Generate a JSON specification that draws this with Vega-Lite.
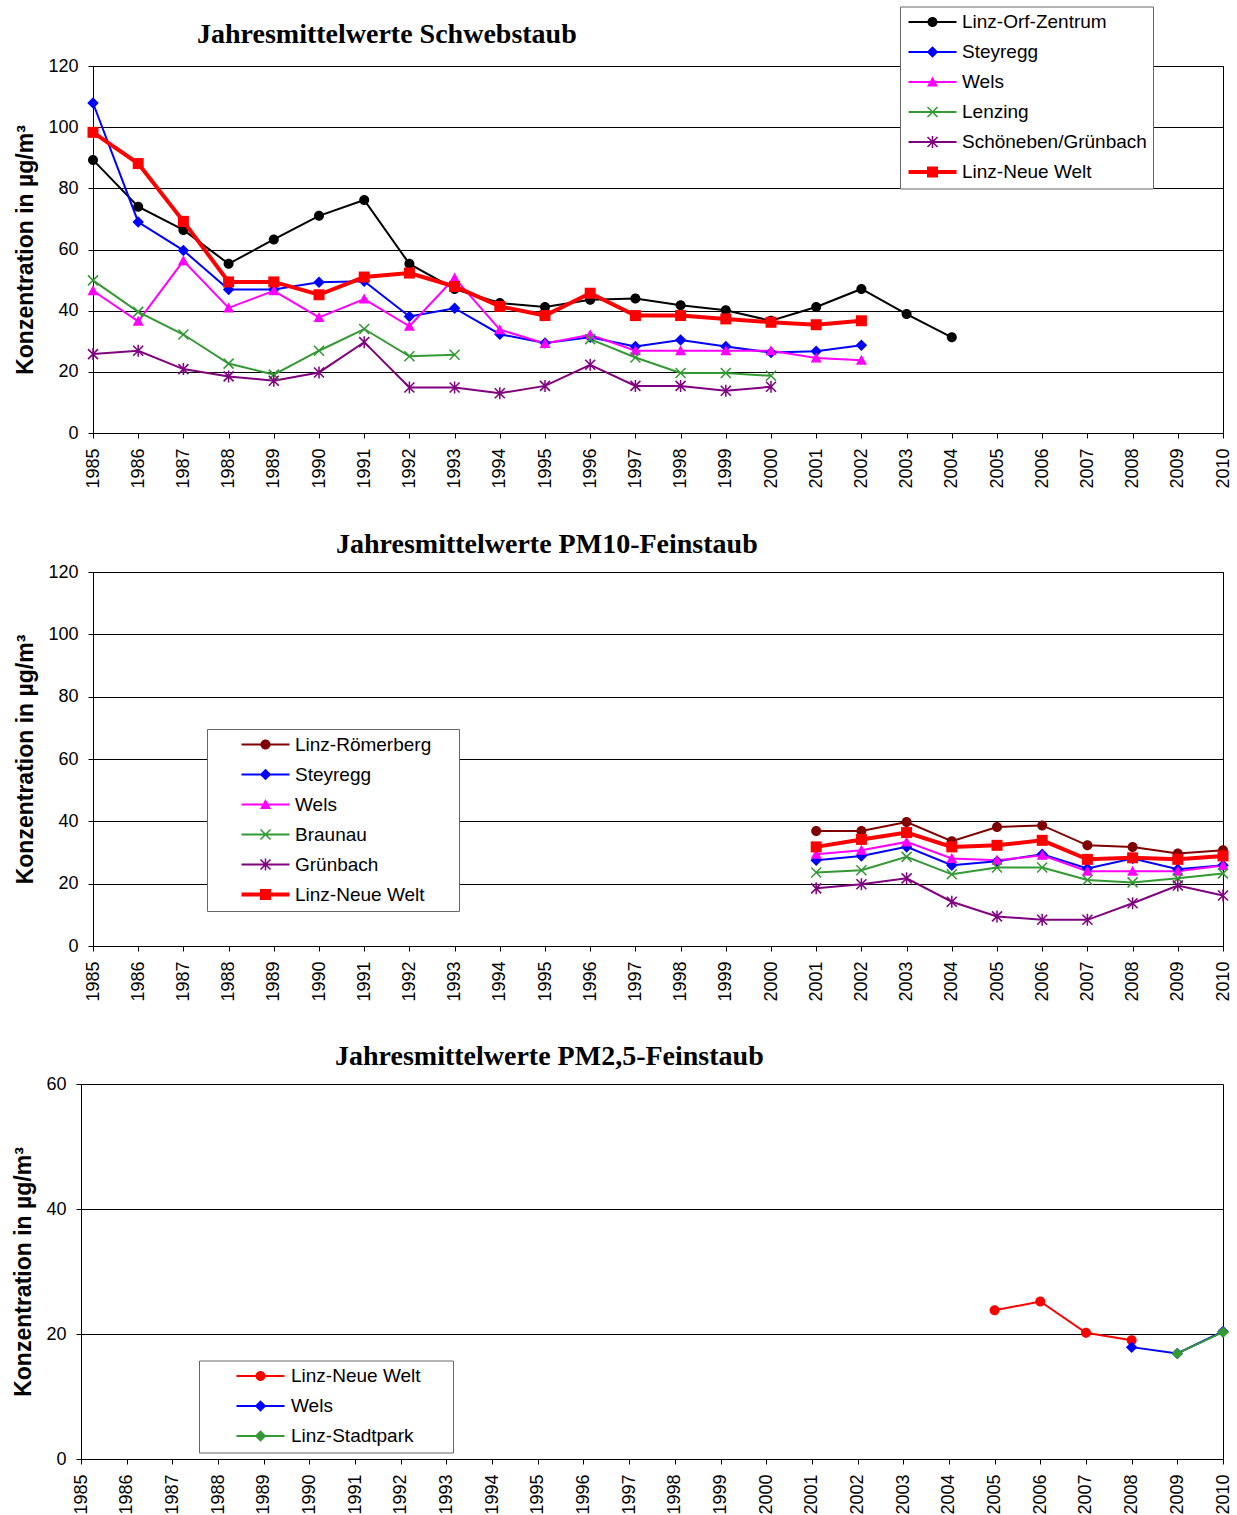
{
  "$schema": "https://vega.github.io/schema/vega-lite/v6.json",
  "padding": {"left": 12, "top": 5, "right": 0, "bottom": 0},
  "background": "white",
  "columns": 1,
  "spacing": 41,
  "datasets": {
    "p1": [
      {"station": "Linz-Orf-Zentrum", "year": 1985, "value": 89.3},
      {"station": "Linz-Orf-Zentrum", "year": 1986, "value": 74.0},
      {"station": "Linz-Orf-Zentrum", "year": 1987, "value": 66.4},
      {"station": "Linz-Orf-Zentrum", "year": 1988, "value": 55.3},
      {"station": "Linz-Orf-Zentrum", "year": 1989, "value": 63.3},
      {"station": "Linz-Orf-Zentrum", "year": 1990, "value": 71.0},
      {"station": "Linz-Orf-Zentrum", "year": 1991, "value": 76.2},
      {"station": "Linz-Orf-Zentrum", "year": 1992, "value": 55.3},
      {"station": "Linz-Orf-Zentrum", "year": 1993, "value": 47.1},
      {"station": "Linz-Orf-Zentrum", "year": 1994, "value": 42.5},
      {"station": "Linz-Orf-Zentrum", "year": 1995, "value": 41.2},
      {"station": "Linz-Orf-Zentrum", "year": 1996, "value": 43.6},
      {"station": "Linz-Orf-Zentrum", "year": 1997, "value": 44.0},
      {"station": "Linz-Orf-Zentrum", "year": 1998, "value": 41.8},
      {"station": "Linz-Orf-Zentrum", "year": 1999, "value": 40.1},
      {"station": "Linz-Orf-Zentrum", "year": 2000, "value": 36.7},
      {"station": "Linz-Orf-Zentrum", "year": 2001, "value": 41.2},
      {"station": "Linz-Orf-Zentrum", "year": 2002, "value": 47.1},
      {"station": "Linz-Orf-Zentrum", "year": 2003, "value": 38.9},
      {"station": "Linz-Orf-Zentrum", "year": 2004, "value": 31.3},
      {"station": "Steyregg", "year": 1985, "value": 107.9},
      {"station": "Steyregg", "year": 1986, "value": 69.0},
      {"station": "Steyregg", "year": 1987, "value": 59.7},
      {"station": "Steyregg", "year": 1988, "value": 46.9},
      {"station": "Steyregg", "year": 1989, "value": 46.9},
      {"station": "Steyregg", "year": 1990, "value": 49.3},
      {"station": "Steyregg", "year": 1991, "value": 49.6},
      {"station": "Steyregg", "year": 1992, "value": 38.1},
      {"station": "Steyregg", "year": 1993, "value": 40.8},
      {"station": "Steyregg", "year": 1994, "value": 32.3},
      {"station": "Steyregg", "year": 1995, "value": 29.4},
      {"station": "Steyregg", "year": 1996, "value": 31.3},
      {"station": "Steyregg", "year": 1997, "value": 28.3},
      {"station": "Steyregg", "year": 1998, "value": 30.4},
      {"station": "Steyregg", "year": 1999, "value": 28.3},
      {"station": "Steyregg", "year": 2000, "value": 26.3},
      {"station": "Steyregg", "year": 2001, "value": 26.7},
      {"station": "Steyregg", "year": 2002, "value": 28.7},
      {"station": "Wels", "year": 1985, "value": 46.5},
      {"station": "Wels", "year": 1986, "value": 36.5},
      {"station": "Wels", "year": 1987, "value": 56.3},
      {"station": "Wels", "year": 1988, "value": 40.9},
      {"station": "Wels", "year": 1989, "value": 46.5},
      {"station": "Wels", "year": 1990, "value": 37.8},
      {"station": "Wels", "year": 1991, "value": 43.8},
      {"station": "Wels", "year": 1992, "value": 34.9},
      {"station": "Wels", "year": 1993, "value": 50.7},
      {"station": "Wels", "year": 1994, "value": 33.8},
      {"station": "Wels", "year": 1995, "value": 29.3},
      {"station": "Wels", "year": 1996, "value": 32.1},
      {"station": "Wels", "year": 1997, "value": 26.9},
      {"station": "Wels", "year": 1998, "value": 26.9},
      {"station": "Wels", "year": 1999, "value": 26.9},
      {"station": "Wels", "year": 2000, "value": 26.9},
      {"station": "Wels", "year": 2001, "value": 24.5},
      {"station": "Wels", "year": 2002, "value": 23.8},
      {"station": "Lenzing", "year": 1985, "value": 49.9},
      {"station": "Lenzing", "year": 1986, "value": 39.6},
      {"station": "Lenzing", "year": 1987, "value": 32.2},
      {"station": "Lenzing", "year": 1988, "value": 22.7},
      {"station": "Lenzing", "year": 1989, "value": 19.1},
      {"station": "Lenzing", "year": 1990, "value": 26.9},
      {"station": "Lenzing", "year": 1991, "value": 34.0},
      {"station": "Lenzing", "year": 1992, "value": 25.1},
      {"station": "Lenzing", "year": 1993, "value": 25.6},
      {"station": "Lenzing", "year": 1994, "value": null},
      {"station": "Lenzing", "year": 1995, "value": null},
      {"station": "Lenzing", "year": 1996, "value": 30.7},
      {"station": "Lenzing", "year": 1997, "value": 24.7},
      {"station": "Lenzing", "year": 1998, "value": 19.6},
      {"station": "Lenzing", "year": 1999, "value": 19.6},
      {"station": "Lenzing", "year": 2000, "value": 18.7},
      {"station": "Schöneben/Grünbach", "year": 1985, "value": 25.8},
      {"station": "Schöneben/Grünbach", "year": 1986, "value": 26.9},
      {"station": "Schöneben/Grünbach", "year": 1987, "value": 20.9},
      {"station": "Schöneben/Grünbach", "year": 1988, "value": 18.5},
      {"station": "Schöneben/Grünbach", "year": 1989, "value": 17.1},
      {"station": "Schöneben/Grünbach", "year": 1990, "value": 19.8},
      {"station": "Schöneben/Grünbach", "year": 1991, "value": 29.7},
      {"station": "Schöneben/Grünbach", "year": 1992, "value": 14.9},
      {"station": "Schöneben/Grünbach", "year": 1993, "value": 14.9},
      {"station": "Schöneben/Grünbach", "year": 1994, "value": 13.0},
      {"station": "Schöneben/Grünbach", "year": 1995, "value": 15.4},
      {"station": "Schöneben/Grünbach", "year": 1996, "value": 22.3},
      {"station": "Schöneben/Grünbach", "year": 1997, "value": 15.4},
      {"station": "Schöneben/Grünbach", "year": 1998, "value": 15.4},
      {"station": "Schöneben/Grünbach", "year": 1999, "value": 13.8},
      {"station": "Schöneben/Grünbach", "year": 2000, "value": 15.1},
      {"station": "Linz-Neue Welt", "year": 1985, "value": 98.3},
      {"station": "Linz-Neue Welt", "year": 1986, "value": 88.1},
      {"station": "Linz-Neue Welt", "year": 1987, "value": 69.2},
      {"station": "Linz-Neue Welt", "year": 1988, "value": 49.4},
      {"station": "Linz-Neue Welt", "year": 1989, "value": 49.4},
      {"station": "Linz-Neue Welt", "year": 1990, "value": 45.2},
      {"station": "Linz-Neue Welt", "year": 1991, "value": 51.0},
      {"station": "Linz-Neue Welt", "year": 1992, "value": 52.3},
      {"station": "Linz-Neue Welt", "year": 1993, "value": 47.9},
      {"station": "Linz-Neue Welt", "year": 1994, "value": 41.4},
      {"station": "Linz-Neue Welt", "year": 1995, "value": 38.4},
      {"station": "Linz-Neue Welt", "year": 1996, "value": 45.7},
      {"station": "Linz-Neue Welt", "year": 1997, "value": 38.4},
      {"station": "Linz-Neue Welt", "year": 1998, "value": 38.4},
      {"station": "Linz-Neue Welt", "year": 1999, "value": 37.3},
      {"station": "Linz-Neue Welt", "year": 2000, "value": 36.2},
      {"station": "Linz-Neue Welt", "year": 2001, "value": 35.4},
      {"station": "Linz-Neue Welt", "year": 2002, "value": 36.7}
    ],
    "p2": [
      {"station": "Linz-Römerberg", "year": 2001, "value": 36.9},
      {"station": "Linz-Römerberg", "year": 2002, "value": 36.9},
      {"station": "Linz-Römerberg", "year": 2003, "value": 39.8},
      {"station": "Linz-Römerberg", "year": 2004, "value": 33.6},
      {"station": "Linz-Römerberg", "year": 2005, "value": 38.2},
      {"station": "Linz-Römerberg", "year": 2006, "value": 38.7},
      {"station": "Linz-Römerberg", "year": 2007, "value": 32.3},
      {"station": "Linz-Römerberg", "year": 2008, "value": 31.8},
      {"station": "Linz-Römerberg", "year": 2009, "value": 29.7},
      {"station": "Linz-Römerberg", "year": 2010, "value": 30.7},
      {"station": "Steyregg", "year": 2001, "value": 27.5},
      {"station": "Steyregg", "year": 2002, "value": 28.9},
      {"station": "Steyregg", "year": 2003, "value": 31.8},
      {"station": "Steyregg", "year": 2004, "value": 25.9},
      {"station": "Steyregg", "year": 2005, "value": 27.2},
      {"station": "Steyregg", "year": 2006, "value": 29.4},
      {"station": "Steyregg", "year": 2007, "value": 24.9},
      {"station": "Steyregg", "year": 2008, "value": 28.1},
      {"station": "Steyregg", "year": 2009, "value": 24.6},
      {"station": "Steyregg", "year": 2010, "value": 25.9},
      {"station": "Wels", "year": 2001, "value": 29.4},
      {"station": "Wels", "year": 2002, "value": 30.7},
      {"station": "Wels", "year": 2003, "value": 33.4},
      {"station": "Wels", "year": 2004, "value": 28.1},
      {"station": "Wels", "year": 2005, "value": 27.5},
      {"station": "Wels", "year": 2006, "value": 29.1},
      {"station": "Wels", "year": 2007, "value": 24.0},
      {"station": "Wels", "year": 2008, "value": 24.0},
      {"station": "Wels", "year": 2009, "value": 24.0},
      {"station": "Wels", "year": 2010, "value": 25.8},
      {"station": "Braunau", "year": 2001, "value": 23.6},
      {"station": "Braunau", "year": 2002, "value": 24.3},
      {"station": "Braunau", "year": 2003, "value": 28.6},
      {"station": "Braunau", "year": 2004, "value": 23.0},
      {"station": "Braunau", "year": 2005, "value": 25.2},
      {"station": "Braunau", "year": 2006, "value": 25.2},
      {"station": "Braunau", "year": 2007, "value": 21.2},
      {"station": "Braunau", "year": 2008, "value": 20.4},
      {"station": "Braunau", "year": 2009, "value": 21.7},
      {"station": "Braunau", "year": 2010, "value": 23.3},
      {"station": "Grünbach", "year": 2001, "value": 18.5},
      {"station": "Grünbach", "year": 2002, "value": 19.8},
      {"station": "Grünbach", "year": 2003, "value": 21.7},
      {"station": "Grünbach", "year": 2004, "value": 14.2},
      {"station": "Grünbach", "year": 2005, "value": 9.5},
      {"station": "Grünbach", "year": 2006, "value": 8.4},
      {"station": "Grünbach", "year": 2007, "value": 8.4},
      {"station": "Grünbach", "year": 2008, "value": 13.7},
      {"station": "Grünbach", "year": 2009, "value": 19.4},
      {"station": "Grünbach", "year": 2010, "value": 16.2},
      {"station": "Linz-Neue Welt", "year": 2001, "value": 31.8},
      {"station": "Linz-Neue Welt", "year": 2002, "value": 34.2},
      {"station": "Linz-Neue Welt", "year": 2003, "value": 36.4},
      {"station": "Linz-Neue Welt", "year": 2004, "value": 31.8},
      {"station": "Linz-Neue Welt", "year": 2005, "value": 32.3},
      {"station": "Linz-Neue Welt", "year": 2006, "value": 33.9},
      {"station": "Linz-Neue Welt", "year": 2007, "value": 27.8},
      {"station": "Linz-Neue Welt", "year": 2008, "value": 28.3},
      {"station": "Linz-Neue Welt", "year": 2009, "value": 27.8},
      {"station": "Linz-Neue Welt", "year": 2010, "value": 28.9}
    ],
    "p3": [
      {"station": "Linz-Neue Welt", "year": 2005, "value": 23.8},
      {"station": "Linz-Neue Welt", "year": 2006, "value": 25.2},
      {"station": "Linz-Neue Welt", "year": 2007, "value": 20.2},
      {"station": "Linz-Neue Welt", "year": 2008, "value": 19.0},
      {"station": "Wels", "year": 2008, "value": 17.9},
      {"station": "Wels", "year": 2009, "value": 16.9},
      {"station": "Wels", "year": 2010, "value": 20.4},
      {"station": "Linz-Stadtpark", "year": 2009, "value": 16.9},
      {"station": "Linz-Stadtpark", "year": 2010, "value": 20.3}
    ]
  },
  "concat": [
    {
      "width": 1130,
      "height": 367,
      "title": {"text": "Jahresmittelwerte Schwebstaub", "dx": 104, "offset": -43},
      "data": {"name": "p1"},
      "encoding": {
        "x": {"field": "year", "type": "quantitative", "scale": {"domain": [1985, 2010], "nice": false, "zero": false},
              "axis": {"values": [1985,1986,1987,1988,1989,1990,1991,1992,1993,1994,1995,1996,1997,1998,1999,2000,2001,2002,2003,2004,2005,2006,2007,2008,2009,2010], "format": "d", "title": null}},
        "y": {"field": "value", "type": "quantitative", "scale": {"domain": [0, 120], "nice": false},
              "axis": {"values": [0,20,40,60,80,100,120], "title": "Konzentration in µg/m³"}}
      },
      "layer": [
        {
          "transform": [{"filter": "datum.station !== 'Linz-Neue Welt'"}],
          "mark": {"type": "line", "strokeWidth": 2, "invalid": "break-paths-show-domains"},
          "encoding": {"color": {"field": "station", "type": "nominal", "legend": null,
            "scale": {"domain": ["Linz-Orf-Zentrum","Steyregg","Wels","Lenzing","Schöneben/Grünbach","Linz-Neue Welt"], "range": ["#000000","#0000FF","#FF00FF","#339933","#800080","#FF0000"]}}}
        },
        {
          "transform": [{"filter": "datum.station !== 'Linz-Neue Welt'"}],
          "mark": {"type": "point", "filled": true, "size": 100, "opacity": 1},
          "encoding": {
            "color": {"field": "station", "type": "nominal", "legend": null,
              "scale": {"domain": ["Linz-Orf-Zentrum","Steyregg","Wels","Lenzing","Schöneben/Grünbach","Linz-Neue Welt"], "range": ["#000000","#0000FF","#FF00FF","#339933","#800080","#FF0000"]}},
            "shape": {"field": "station", "type": "nominal", "legend": null,
              "scale": {"domain": ["Linz-Orf-Zentrum","Steyregg","Wels","Lenzing","Schöneben/Grünbach","Linz-Neue Welt"],
                "range": ["M-1,0A1,1,0,1,0,1,0A1,1,0,1,0,-1,0Z", "M0,-1.15L-1.15,0L0,1.15L1.15,0Z", "M0,-1.1L-1.1,0.9L1.1,0.9Z", "M-1.11,-0.89L0.89,1.11L1.11,0.89L-0.89,-1.11ZM-0.89,1.11L1.11,-0.89L0.89,-1.11L-1.11,0.89Z", "M-1.11,-0.89L0.89,1.11L1.11,0.89L-0.89,-1.11ZM-0.89,1.11L1.11,-0.89L0.89,-1.11L-1.11,0.89ZM-0.15,-1.2L-0.15,1.2L0.15,1.2L0.15,-1.2Z", "M-1.1,-1.1V1.1H1.1V-1.1Z"]}}
          }
        },
        {
          "transform": [{"filter": "datum.station === 'Linz-Neue Welt'"}],
          "mark": {"type": "line", "strokeWidth": 4},
          "encoding": {"color": {"field": "station", "type": "nominal", "legend": null,
            "scale": {"domain": ["Linz-Orf-Zentrum","Steyregg","Wels","Lenzing","Schöneben/Grünbach","Linz-Neue Welt"], "range": ["#000000","#0000FF","#FF00FF","#339933","#800080","#FF0000"]}}}
        },
        {
          "transform": [{"filter": "datum.station === 'Linz-Neue Welt'"}],
          "mark": {"type": "point", "filled": true, "size": 100, "opacity": 1, "shape": "M-1.1,-1.1V1.1H1.1V-1.1Z"},
          "encoding": {"color": {"field": "station", "type": "nominal", "legend": null,
            "scale": {"domain": ["Linz-Orf-Zentrum","Steyregg","Wels","Lenzing","Schöneben/Grünbach","Linz-Neue Welt"], "range": ["#000000","#0000FF","#FF00FF","#339933","#800080","#FF0000"]}}}
        },
        {
          "transform": [{"filter": "false"}],
          "mark": {"type": "point", "filled": true, "size": 100, "opacity": 1},
          "encoding": {
            "fill": {"field": "station", "type": "nominal",
              "scale": {"domain": ["Linz-Orf-Zentrum","Steyregg","Wels","Lenzing","Schöneben/Grünbach","Linz-Neue Welt"], "range": ["#000000","#0000FF","#FF00FF","#339933","#800080","#FF0000"]},
              "legend": {"orient": "none", "legendX": 807, "legendY": -59.5, "title": null, "padding": 6, "fillColor": "white", "strokeColor": "#666666", "labelFont": "Liberation Sans", "labelFontSize": 19, "labelColor": "#000000", "symbolSize": 100, "symbolStrokeWidth": 0, "symbolOffset": 17, "labelOffset": 20, "rowPadding": 10, "labelLimit": 400}},
            "shape": {"field": "station", "type": "nominal",
              "scale": {"domain": ["Linz-Orf-Zentrum","Steyregg","Wels","Lenzing","Schöneben/Grünbach","Linz-Neue Welt"],
                "range": ["M-4.8,-0.2V0.2H4.8V-0.2ZM-1,0A1,1,0,1,0,1,0A1,1,0,1,0,-1,0Z", "M-4.8,-0.2V0.2H4.8V-0.2ZM0,-1.15L-1.15,0L0,1.15L1.15,0Z", "M-4.8,-0.2V0.2H4.8V-0.2ZM0,-1.1L-1.1,0.9L1.1,0.9Z", "M-4.8,-0.2V0.2H4.8V-0.2ZM-1.11,-0.89L0.89,1.11L1.11,0.89L-0.89,-1.11ZM-0.89,1.11L1.11,-0.89L0.89,-1.11L-1.11,0.89Z", "M-4.8,-0.2V0.2H4.8V-0.2ZM-1.11,-0.89L0.89,1.11L1.11,0.89L-0.89,-1.11ZM-0.89,1.11L1.11,-0.89L0.89,-1.11L-1.11,0.89ZM-0.15,-1.2L-0.15,1.2L0.15,1.2L0.15,-1.2Z", "M-4.8,-0.4V0.4H4.8V-0.4ZM-1.1,-1.1V1.1H1.1V-1.1Z"]},
              "legend": {"orient": "none", "legendX": 807, "legendY": -59.5, "title": null, "padding": 6, "fillColor": "white", "strokeColor": "#666666", "labelFont": "Liberation Sans", "labelFontSize": 19, "labelColor": "#000000", "symbolSize": 100, "symbolStrokeWidth": 0, "symbolOffset": 17, "labelOffset": 20, "rowPadding": 10, "labelLimit": 400}}
          }
        }
      ],
      "resolve": {"scale": {"shape": "independent", "fill": "independent"}}
    },
    {
      "width": 1130,
      "height": 374,
      "title": {"text": "Jahresmittelwerte PM10-Feinstaub", "dx": 243},
      "data": {"name": "p2"},
      "encoding": {
        "x": {"field": "year", "type": "quantitative", "scale": {"domain": [1985, 2010], "nice": false, "zero": false},
              "axis": {"values": [1985,1986,1987,1988,1989,1990,1991,1992,1993,1994,1995,1996,1997,1998,1999,2000,2001,2002,2003,2004,2005,2006,2007,2008,2009,2010], "format": "d", "title": null}},
        "y": {"field": "value", "type": "quantitative", "scale": {"domain": [0, 120], "nice": false},
              "axis": {"values": [0,20,40,60,80,100,120], "title": "Konzentration in µg/m³"}}
      },
      "layer": [
        {
          "transform": [{"filter": "datum.station !== 'Linz-Neue Welt'"}],
          "mark": {"type": "line", "strokeWidth": 2},
          "encoding": {"color": {"field": "station", "type": "nominal", "legend": null,
            "scale": {"domain": ["Linz-Römerberg","Steyregg","Wels","Braunau","Grünbach","Linz-Neue Welt"], "range": ["#800000","#0000FF","#FF00FF","#339933","#800080","#FF0000"]}}}
        },
        {
          "transform": [{"filter": "datum.station !== 'Linz-Neue Welt'"}],
          "mark": {"type": "point", "filled": true, "size": 100, "opacity": 1},
          "encoding": {
            "color": {"field": "station", "type": "nominal", "legend": null,
              "scale": {"domain": ["Linz-Römerberg","Steyregg","Wels","Braunau","Grünbach","Linz-Neue Welt"], "range": ["#800000","#0000FF","#FF00FF","#339933","#800080","#FF0000"]}},
            "shape": {"field": "station", "type": "nominal", "legend": null,
              "scale": {"domain": ["Linz-Römerberg","Steyregg","Wels","Braunau","Grünbach","Linz-Neue Welt"],
                "range": ["M-1,0A1,1,0,1,0,1,0A1,1,0,1,0,-1,0Z", "M0,-1.15L-1.15,0L0,1.15L1.15,0Z", "M0,-1.1L-1.1,0.9L1.1,0.9Z", "M-1.11,-0.89L0.89,1.11L1.11,0.89L-0.89,-1.11ZM-0.89,1.11L1.11,-0.89L0.89,-1.11L-1.11,0.89Z", "M-1.11,-0.89L0.89,1.11L1.11,0.89L-0.89,-1.11ZM-0.89,1.11L1.11,-0.89L0.89,-1.11L-1.11,0.89ZM-0.15,-1.2L-0.15,1.2L0.15,1.2L0.15,-1.2Z", "M-1.1,-1.1V1.1H1.1V-1.1Z"]}}
          }
        },
        {
          "transform": [{"filter": "datum.station === 'Linz-Neue Welt'"}],
          "mark": {"type": "line", "strokeWidth": 4},
          "encoding": {"color": {"field": "station", "type": "nominal", "legend": null,
            "scale": {"domain": ["Linz-Römerberg","Steyregg","Wels","Braunau","Grünbach","Linz-Neue Welt"], "range": ["#800000","#0000FF","#FF00FF","#339933","#800080","#FF0000"]}}}
        },
        {
          "transform": [{"filter": "datum.station === 'Linz-Neue Welt'"}],
          "mark": {"type": "point", "filled": true, "size": 100, "opacity": 1, "shape": "M-1.1,-1.1V1.1H1.1V-1.1Z"},
          "encoding": {"color": {"field": "station", "type": "nominal", "legend": null,
            "scale": {"domain": ["Linz-Römerberg","Steyregg","Wels","Braunau","Grünbach","Linz-Neue Welt"], "range": ["#800000","#0000FF","#FF00FF","#339933","#800080","#FF0000"]}}}
        },
        {
          "transform": [{"filter": "false"}],
          "mark": {"type": "point", "filled": true, "size": 100, "opacity": 1},
          "encoding": {
            "fill": {"field": "station", "type": "nominal",
              "scale": {"domain": ["Linz-Römerberg","Steyregg","Wels","Braunau","Grünbach","Linz-Neue Welt"], "range": ["#800000","#0000FF","#FF00FF","#339933","#800080","#FF0000"]},
              "legend": {"orient": "none", "legendX": 114, "legendY": 157, "title": null, "padding": 6, "fillColor": "white", "strokeColor": "#666666", "labelFont": "Liberation Sans", "labelFontSize": 19, "labelColor": "#000000", "symbolSize": 100, "symbolStrokeWidth": 0, "symbolOffset": 43, "labelOffset": 20, "rowPadding": 10, "labelLimit": 400, "labelExpr": "datum.label + '\u00a0\u00a0\u00a0\u00a0\u200b'"}},
            "shape": {"field": "station", "type": "nominal",
              "scale": {"domain": ["Linz-Römerberg","Steyregg","Wels","Braunau","Grünbach","Linz-Neue Welt"],
                "range": ["M-4.8,-0.2V0.2H4.8V-0.2ZM-1,0A1,1,0,1,0,1,0A1,1,0,1,0,-1,0Z", "M-4.8,-0.2V0.2H4.8V-0.2ZM0,-1.15L-1.15,0L0,1.15L1.15,0Z", "M-4.8,-0.2V0.2H4.8V-0.2ZM0,-1.1L-1.1,0.9L1.1,0.9Z", "M-4.8,-0.2V0.2H4.8V-0.2ZM-1.11,-0.89L0.89,1.11L1.11,0.89L-0.89,-1.11ZM-0.89,1.11L1.11,-0.89L0.89,-1.11L-1.11,0.89Z", "M-4.8,-0.2V0.2H4.8V-0.2ZM-1.11,-0.89L0.89,1.11L1.11,0.89L-0.89,-1.11ZM-0.89,1.11L1.11,-0.89L0.89,-1.11L-1.11,0.89ZM-0.15,-1.2L-0.15,1.2L0.15,1.2L0.15,-1.2Z", "M-4.8,-0.4V0.4H4.8V-0.4ZM-1.1,-1.1V1.1H1.1V-1.1Z"]},
              "legend": {"orient": "none", "legendX": 114, "legendY": 157, "title": null, "padding": 6, "fillColor": "white", "strokeColor": "#666666", "labelFont": "Liberation Sans", "labelFontSize": 19, "labelColor": "#000000", "symbolSize": 100, "symbolStrokeWidth": 0, "symbolOffset": 43, "labelOffset": 20, "rowPadding": 10, "labelLimit": 400, "labelExpr": "datum.label + '\u00a0\u00a0\u00a0\u00a0\u200b'"}}
          }
        }
      ],
      "resolve": {"scale": {"shape": "independent", "fill": "independent"}}
    },
    {
      "width": 1130,
      "height": 375,
      "view": {"stroke": null},
      "title": {"text": "Jahresmittelwerte PM2,5-Feinstaub", "dx": 242},
      "data": {"name": "p3"},
      "encoding": {
        "x": {"field": "year", "type": "quantitative", "scale": {"domain": [1985, 2010], "range": [-12, 1130], "nice": false, "zero": false},
              "axis": {"values": [1985,1986,1987,1988,1989,1990,1991,1992,1993,1994,1995,1996,1997,1998,1999,2000,2001,2002,2003,2004,2005,2006,2007,2008,2009,2010], "format": "d", "title": null}}
      },
      "layer": [
        {
          "mark": {"type": "line", "strokeWidth": 2},
          "encoding": {
            "y": {"field": "value", "type": "quantitative", "scale": {"domain": [0, 60], "nice": false},
                  "axis": {"values": [0,20,40,60], "title": "Konzentration in µg/m³", "offset": 12}},
            "color": {"field": "station", "type": "nominal", "legend": null,
              "scale": {"domain": ["Linz-Neue Welt","Wels","Linz-Stadtpark"], "range": ["#FF0000","#0000FF","#339933"]}}}
        },
        {
          "mark": {"type": "point", "filled": true, "size": 100, "opacity": 1},
          "encoding": {
            "y": {"field": "value", "type": "quantitative", "axis": null},
            "color": {"field": "station", "type": "nominal", "legend": null,
              "scale": {"domain": ["Linz-Neue Welt","Wels","Linz-Stadtpark"], "range": ["#FF0000","#0000FF","#339933"]}},
            "shape": {"field": "station", "type": "nominal", "legend": null,
              "scale": {"domain": ["Linz-Neue Welt","Wels","Linz-Stadtpark"],
                "range": ["M-1,0A1,1,0,1,0,1,0A1,1,0,1,0,-1,0Z", "M0,-1.15L-1.15,0L0,1.15L1.15,0Z", "M0,-1.15L-1.15,0L0,1.15L1.15,0Z"]}}
          }
        },
        {
          "transform": [{"filter": "false"}],
          "mark": {"type": "point", "filled": true, "size": 100, "opacity": 1},
          "encoding": {
            "y": {"field": "value", "type": "quantitative",
                  "axis": {"orient": "right", "labels": false, "ticks": false, "title": null, "grid": false, "domainColor": "#000000"}},
            "fill": {"field": "station", "type": "nominal",
              "scale": {"domain": ["Linz-Neue Welt","Wels","Linz-Stadtpark"], "range": ["#FF0000","#0000FF","#339933"]},
              "legend": {"orient": "none", "legendX": 106, "legendY": 276.5, "title": null, "padding": 6, "fillColor": "white", "strokeColor": "#666666", "labelFont": "Liberation Sans", "labelFontSize": 19, "labelColor": "#000000", "symbolSize": 100, "symbolStrokeWidth": 0, "symbolOffset": 46, "labelOffset": 21, "rowPadding": 10, "labelLimit": 400, "labelExpr": "datum.label + '\u00a0\u00a0\u00a0\u00a0\u00a0\u200b'"}},
            "shape": {"field": "station", "type": "nominal",
              "scale": {"domain": ["Linz-Neue Welt","Wels","Linz-Stadtpark"],
                "range": ["M-4.8,-0.2V0.2H4.8V-0.2ZM-1,0A1,1,0,1,0,1,0A1,1,0,1,0,-1,0Z", "M-4.8,-0.2V0.2H4.8V-0.2ZM0,-1.15L-1.15,0L0,1.15L1.15,0Z", "M-4.8,-0.2V0.2H4.8V-0.2ZM0,-1.15L-1.15,0L0,1.15L1.15,0Z"]},
              "legend": {"orient": "none", "legendX": 106, "legendY": 276.5, "title": null, "padding": 6, "fillColor": "white", "strokeColor": "#666666", "labelFont": "Liberation Sans", "labelFontSize": 19, "labelColor": "#000000", "symbolSize": 100, "symbolStrokeWidth": 0, "symbolOffset": 46, "labelOffset": 21, "rowPadding": 10, "labelLimit": 400, "labelExpr": "datum.label + '\u00a0\u00a0\u00a0\u00a0\u00a0\u200b'"}}
          }
        }
      ],
      "resolve": {"scale": {"shape": "independent", "fill": "independent"}, "axis": {"y": "independent"}}
    }
  ],
  "resolve": {"scale": {"color": "independent", "fill": "independent", "shape": "independent", "x": "independent", "y": "independent"}},
  "config": {
    "font": "Liberation Sans",
    "view": {"stroke": "#000000", "strokeWidth": 1},
    "axis": {
      "domainColor": "#000000", "tickColor": "#000000", "labelColor": "#000000", "titleColor": "#000000",
      "labelFont": "Liberation Sans", "labelFontSize": 18, "tickSize": 5, "labelPadding": 10,
      "gridColor": "#000000", "gridOpacity": 1, "gridWidth": 1,
      "titleFont": "Liberation Sans", "titleFontSize": 23, "titleFontWeight": "bold", "titlePadding": 10
    },
    "axisX": {"grid": false, "labelAngle": -90, "labelFlush": false, "labelOverlap": false},
    "axisY": {"grid": true, "labelOverlap": false},
    "title": {"font": "Liberation Serif", "fontSize": 28, "fontWeight": "bold", "color": "#000000", "anchor": "start", "frame": "group"}
  }
}
